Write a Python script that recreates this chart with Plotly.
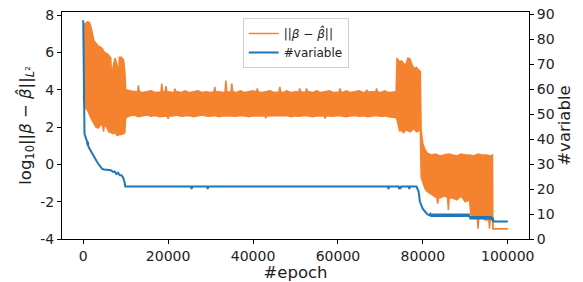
import plotly.graph_objects as go

# ---------------- data ----------------
# ||beta - beta_hat|| (log10): the noisy trace is described by its upper / lower envelope
UP_EPOCH = [0, 500, 1000, 1500, 2000, 2500, 3000, 3500, 4000, 4500, 5000, 5500, 6000, 6500,
            6800, 7000, 7500, 8000, 8250, 8500, 9000, 9500, 9800, 10000,
            11000, 12000, 12800, 13000, 13200, 14000, 15000, 16000, 17000, 18000, 18300, 18500,
            18700, 19300, 19500, 19700, 20000, 21000, 21400, 21600, 21800, 22000, 23000, 24000,
            25000, 26000, 27000, 28000, 29000, 30000, 30800, 31000, 31200, 32000, 33000, 33400,
            33600, 33800, 34800, 35000, 35200, 36000, 37000, 38000, 39000, 40000, 40800, 41000,
            41200, 42000, 43000, 44000, 45000, 46000, 46100, 46300, 46500, 47000, 48000, 49000,
            50000, 50800, 51000, 51200, 52000, 52400, 52600, 52800, 53000, 54000, 55000, 56000,
            57000, 58000, 59000, 60000, 60300, 60500, 60700, 61000, 62000, 63000, 64000, 65000,
            66000, 66600, 66800, 67000, 68000, 68900, 69100, 69300, 70000, 71000, 72000, 73000,
            73700, 73900, 74500, 75000, 75500, 76000, 76500, 77000, 77500, 78000, 78500, 79000,
            79400, 79600, 80000, 80500, 81000, 82000, 83000, 84000, 85000, 86000, 87000, 88000,
            89000, 90000, 91000, 92000, 93000, 94000, 95000, 96000, 96400, 96500, 100000]
UP_VAL = [7.45, 7.55, 7.64, 7.6, 7.2, 6.65, 6.5, 6.35, 6.3, 6.2, 6.0, 5.95, 5.85, 5.7,
          4.0, 5.2, 5.7, 5.3, 4.4, 5.75, 5.75, 5.6, 5.0, 4.0,
          3.95, 3.9, 3.88, 4.24, 3.9, 3.85, 3.9, 3.95, 3.85, 3.9, 3.88, 4.33,
          3.9, 3.9, 4.2, 3.88, 3.9, 3.85, 3.9, 4.06, 3.88, 3.9, 3.85, 3.95,
          3.85, 3.9, 3.95, 3.85, 3.9, 3.85, 3.9, 4.15, 3.88, 3.9, 3.85, 3.9,
          4.5, 3.9, 3.88, 4.33, 3.9, 3.85, 3.95, 3.85, 3.9, 3.95, 3.88, 4.07,
          3.9, 3.85, 3.9, 3.95, 3.85, 3.9, 3.88, 4.15, 3.9, 3.85, 3.95, 3.85,
          3.9, 3.88, 4.07, 3.9, 3.85, 3.9, 4.07, 3.88, 3.9, 3.85, 3.95, 3.85,
          3.9, 3.95, 3.85, 3.9, 3.88, 4.07, 3.9, 3.85, 3.95, 3.85, 3.9, 3.95,
          3.85, 3.9, 4.0, 3.88, 3.9, 3.88, 4.07, 3.9, 3.85, 3.95, 3.85, 3.9,
          3.9, 5.7, 5.5, 5.55, 5.4, 5.35, 5.7, 5.65, 5.3, 5.15, 5.2, 5.05,
          5.0, 1.8, 1.1, 0.8, 0.6, 0.5, 0.55, 0.45, 0.5, 0.55, 0.5, 0.45,
          0.55, 0.5, 0.5, 0.45, 0.55, 0.5, 0.5, 0.45, 0.5, -3.45, -3.45]

LO_EPOCH = [0, 500, 1000, 1500, 2000, 2500, 3000, 3500, 4000, 4500, 4800, 5000, 5500, 6000,
            6500, 7000, 7500, 8000, 8500, 9000, 9500, 9800, 10000,
            11000, 12000, 13000, 14000, 15000, 16000, 17000, 18000, 19000, 19800, 20000, 20200,
            21000, 22000, 23000, 24000, 25000, 26000, 27000, 28000, 29000, 30000, 31000, 32000,
            33000, 34000, 35000, 36000, 37000, 38000, 39000, 40000, 41000, 42000, 42800, 43000,
            43200, 44000, 45000, 46000, 47000, 48000, 49000, 50000, 51000, 52000, 53000, 54000,
            55000, 56000, 56800, 57000, 57200, 58000, 59000, 60000, 61000, 62000, 63000, 64000,
            65000, 66000, 67000, 68000, 69000, 70000, 71000, 72000, 73000, 73700, 73900, 74500,
            75000, 75500, 76000, 76500, 77000, 77500, 78000, 78500, 79000, 79400, 79600, 80000,
            80500, 81000, 82000, 83000, 83300, 83500, 83700, 84000, 85000, 85800, 86000, 86200,
            87000, 88000, 89000, 90000, 91000, 91300, 92000, 92800, 93000, 93200, 94000, 95000,
            95500, 95700, 95900, 96400, 96500, 100000]
LO_VAL = [3.6, 3.05, 2.9, 2.6, 2.4, 2.2, 2.0, 1.95, 2.1, 2.2, 1.75, 2.15, 2.0, 1.75,
          1.7, 1.65, 1.7, 1.55, 1.6, 1.6, 1.65, 1.7, 2.5,
          2.6, 2.65, 2.55, 2.6, 2.65, 2.58, 2.62, 2.55, 2.6, 2.6, 2.45, 2.6,
          2.6, 2.65, 2.58, 2.6, 2.62, 2.55, 2.6, 2.65, 2.6, 2.58, 2.62, 2.55,
          2.6, 2.62, 2.6, 2.58, 2.62, 2.6, 2.55, 2.6, 2.62, 2.6, 2.6, 2.47,
          2.6, 2.6, 2.62, 2.58, 2.6, 2.62, 2.55, 2.6, 2.58, 2.62, 2.6, 2.55,
          2.6, 2.62, 2.6, 2.46, 2.6, 2.6, 2.58, 2.62, 2.6, 2.55, 2.6, 2.62,
          2.58, 2.6, 2.55, 2.6, 2.62, 2.58, 2.6, 2.55, 2.5, 2.5, 2.4, 1.8,
          1.8, 1.7, 1.85, 1.8, 1.75, 1.85, 1.9, 1.75, 1.8, 1.85, -0.7, -1.0,
          -1.3, -1.45, -1.6, -1.75, -1.8, -2.1, -1.8, -1.8, -1.7, -1.75, -2.46, -1.8,
          -1.8, -1.9, -1.7, -2.0, -1.9, -2.7, -2.8, -2.8, -3.45, -2.8, -2.9, -3.0,
          -2.9, -3.45, -2.9, -2.9, -3.45, -3.45]

# number of selected variables
VAR_EPOCH = [0, 150, 300, 600, 900, 1000, 1100, 1200, 1500, 1800, 2100, 2400, 2800, 3200,
             3600, 4000, 4500, 5000, 5500, 6000, 6500, 7000, 7400, 7800, 8200, 8600, 9000,
             9400, 9700, 9900, 25400, 25500, 25700, 29200, 29300, 29500, 71800, 71900,
             72100, 74300, 74400, 74600, 74700, 74900, 76700, 76800, 77000, 78500, 79000,
             79300, 79700, 80000, 80500, 81000, 81500, 81750,
             82000, 82250, 82500, 82750, 83000, 83250, 83500, 83750, 84000, 84250,
             84500, 84750, 85000, 85250, 85500, 85750, 86000, 86250, 86500, 86750,
             87000, 87250, 87500, 87750, 88000, 88250, 88500, 88750, 89000, 89250,
             89500, 89750, 90000, 90250, 90500, 90750, 91000, 91250, 91500, 91750,
             92000, 92250, 92500, 92750, 93000, 93250, 93500, 93750, 94000, 94250,
             94500, 94750, 95000, 95250, 95500, 95750, 96000, 96250, 96500, 96600, 100000]
VAR_COUNT = [87.5, 60, 42, 40.5, 39, 37.5, 39, 37, 36, 35, 34, 33, 32, 31,
             30, 29, 28, 27.8, 27.8, 27.5, 27.5, 26.8, 27, 26, 26.5, 25.5, 25.5,
             24.5, 23, 21, 21, 20, 21, 21, 20, 21, 21, 20,
             21, 21, 20, 21, 20, 21, 21, 20, 21, 21, 19,
             15, 13, 12, 11, 10, 9.5, 10,
             9, 10, 9, 10, 9, 10, 9, 10, 9, 10,
             9, 10, 9, 10, 9, 10, 9, 10, 9, 10,
             9, 10, 9, 10, 9, 10, 9, 10, 9, 10,
             9, 10, 9, 10, 9, 10, 9, 8, 9, 8,
             9, 8, 9, 8, 9, 8, 9, 8, 9, 8,
             9, 8, 9, 8, 9, 8, 9, 8, 8.5, 7, 7]

X_TICKS = [0, 20000, 40000, 60000, 80000, 100000]
X_TICKTEXT = ["0", "20000", "40000", "60000", "80000", "100000"]
Y1_TICKS = [-4, -2, 0, 2, 4, 6, 8]
Y1_TICKTEXT = ["-4", "-2", "0", "2", "4", "6", "8"]
Y2_TICKS = [0, 10, 20, 30, 40, 50, 60, 70, 80, 90]

ORANGE = "#f5822f"
BLUE = "#1f77b4"
FONT = "DejaVu Sans"
TXT = "#222222"

fig = go.Figure()

fig.add_trace(go.Scatter(
    x=UP_EPOCH, y=UP_VAL, mode="lines", name="||<i>β</i> − <i>β̂</i>||",
    line=dict(color=ORANGE, width=1.5), yaxis="y"))
fig.add_trace(go.Scatter(
    x=LO_EPOCH, y=LO_VAL, mode="lines", showlegend=False,
    line=dict(color=ORANGE, width=1.5), fill="tonexty", fillcolor=ORANGE, yaxis="y"))
fig.add_trace(go.Scatter(
    x=VAR_EPOCH, y=VAR_COUNT, mode="lines", name="#variable",
    line=dict(color=BLUE, width=2), yaxis="y2"))

axis_common = dict(showline=True, linecolor="black", linewidth=1, ticks="outside",
                   ticklen=4, tickcolor="black", tickwidth=1, showgrid=False, zeroline=False,
                   automargin=False,
                   tickfont=dict(family=FONT, size=14, color=TXT))

fig.update_layout(
    width=583, height=282,
    margin=dict(l=62, r=54, t=12, b=43),
    paper_bgcolor="white", plot_bgcolor="white",
    font=dict(family=FONT, color=TXT),
    hovermode=False,
    xaxis=dict(range=[-5000, 105000], tickvals=X_TICKS, ticktext=X_TICKTEXT, mirror=True,
               title=dict(text="#epoch", font=dict(family=FONT, size=16.5, color=TXT), standoff=4),
               **axis_common),
    yaxis=dict(range=[-4.0, 8.17], tickvals=Y1_TICKS, ticktext=Y1_TICKTEXT,
               title=dict(text="log<sub>10</sub>||<i>β</i> − <i>β̂</i>||<sub><i>L</i>²</sub>",
                          font=dict(family=FONT, size=16.5, color=TXT), standoff=4),
               **axis_common),
    yaxis2=dict(range=[0, 90.8], tickvals=Y2_TICKS, overlaying="y", side="right",
                title=dict(text="#variable", font=dict(family=FONT, size=16.5, color=TXT), standoff=0),
                **axis_common),
    legend=dict(x=0.387, y=0.974, xanchor="left", yanchor="top", traceorder="normal",
                bgcolor="white", bordercolor="#d0d0d0", borderwidth=1,
                font=dict(family=FONT, size=12, color=TXT), tracegroupgap=0),
    showlegend=True,
)

fig.write_html("out.html", config={"displayModeBar": False},
               post_script="document.body.style.margin='0';document.body.style.padding='0';")
